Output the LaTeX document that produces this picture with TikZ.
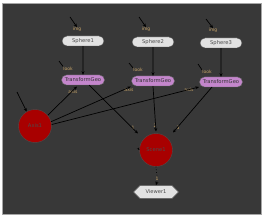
\documentclass[tikz,border=0pt]{standalone}
\usepackage{fontspec}
\setmainfont{DejaVu Sans}
\usetikzlibrary{arrows.meta,shapes.misc,shapes.geometric}
\definecolor{bg}{HTML}{383838}
\definecolor{sph}{HTML}{E2E2E2}
\definecolor{purp}{HTML}{C486CC}
\definecolor{lab}{HTML}{C8A468}
\definecolor{nred}{HTML}{A80000}
\tikzset{
  every node/.style={font=\fontsize{5.2}{6}\selectfont},
  sphbox/.style={draw=gray!60!black, fill=sph, rounded rectangle, minimum width=44pt, minimum height=10pt, inner sep=1pt, text=black!70},
  tgbox/.style={draw=black!60, fill=purp, rounded rectangle, minimum width=44pt, minimum height=10pt, inner sep=0.5pt, text=black!80},
  circnode/.style={draw=black!70, fill=nred, circle, minimum size=33pt, inner sep=0pt, text=black!70},
  viewbox/.style={draw=gray!60!black, fill=sph, chamfered rectangle, chamfered rectangle xsep=3pt, minimum width=45pt, minimum height=9.5pt, inner sep=1pt, text=black!70},
  portlab/.style={text=lab, inner sep=0pt, font=\fontsize{4.5}{5}\selectfont},
  conn/.style={draw=black, line width=0.7pt, -{Stealth[length=3.5pt,width=3pt]}},
}
\begin{document}
\begin{tikzpicture}[x=1pt,y=-1pt]
\useasboundingbox (0,0) rectangle (267,219);
\fill[white] (0,0) rectangle (267,219);
\draw[fill=bg, draw=gray!70] (2,3) rectangle (261,214);
% nodes
\node[sphbox] (s1) at (83,41) {Sphere1};
\node[sphbox] (s2) at (153,42) {Sphere2};
\node[sphbox] (s3) at (221,43) {Sphere3};
\node[tgbox] (t1) at (83,80) {TransformGeo};
\node[tgbox] (t2) at (153,81) {TransformGeo};
\node[tgbox] (t3) at (221,82) {TransformGeo};
\node[circnode] (ax) at (35,126) {Axis1};
\node[circnode] (sc) at (156,150) {Scene1};
\node[viewbox] (v1) at (156,192) {Viewer1};
% port labels
\node[portlab] (i1) at (77,29.5) {img};
\node[portlab] (i2) at (146,29.5) {img};
\node[portlab] (i3) at (213,30.5) {img};
\node[portlab] (l1) at (68,68.5) {look};
\node[portlab] (l2) at (138,70) {look};
\node[portlab] (l3) at (207,72) {look};
\node[portlab] (a1) at (73,92) {axis};
\node[portlab] (a2) at (129,89.5) {axis};
\node[portlab] (a3) at (189,89.5) {axis};
\node[portlab] (n1) at (133,128) {1};
\node[portlab] (n2) at (155,126) {2};
\node[portlab] (n3) at (178,127.5) {3};
\node[portlab] (n4) at (157,179) {1};
% free ends
\coordinate (fi1) at (70,17);
\coordinate (fi2) at (139,17);
\coordinate (fi3) at (206,19);
\coordinate (fl1) at (59,61);
\coordinate (fl2) at (129,63);
\coordinate (fl3) at (198,64);
\coordinate (fax) at (17,92);
\coordinate (fsc) at (139,149.5);
\coordinate (e1) at (77,86.5);
\coordinate (e2) at (131,86.5);
\coordinate (e3) at (199,87);
\coordinate (o1) at (89,85);
\coordinate (o3) at (212,87);
\coordinate (p1) at (138,133.5);
\coordinate (p2) at (156,131.5);
\coordinate (p3) at (173,132.5);
\coordinate (d1) at (157,176);
\coordinate (d2) at (157,181.5);
% inputs with free ends
\draw[conn] (fi1) -- (i1.north);
\draw[conn] (fi2) -- (i2.north);
\draw[conn] (fi3) -- (i3.north);
\draw[line width=0.7pt] (fl1) -- (l1.north west);
\draw[line width=0.7pt] (fl2) -- (l2.north west);
\draw[line width=0.7pt] (fl3) -- (l3.north west);
\draw[conn] (fax) -- (ax.120);
\draw[-{Stealth[length=2.5pt,width=2.5pt]}, draw=black] (fsc) -- (sc.west);
% connections
\draw[conn] (s1) -- (t1);
\draw[conn] (s2) -- (t2);
\draw[conn] (s3) -- (t3);
\draw[conn] (ax.40) -- (e1);
\draw[conn] (ax.15) -- (e2);
\draw[conn] (ax.5) -- (e3);
\draw[conn] (o1) -- (p1);
\draw[conn] (t2.south) -- (p2);
\draw[conn] (o3) -- (p3);
\draw[line width=0.7pt, dotted] (sc.south) -- (d1);
\draw[conn] (d2) -- (v1.north);
\end{tikzpicture}
\end{document}
